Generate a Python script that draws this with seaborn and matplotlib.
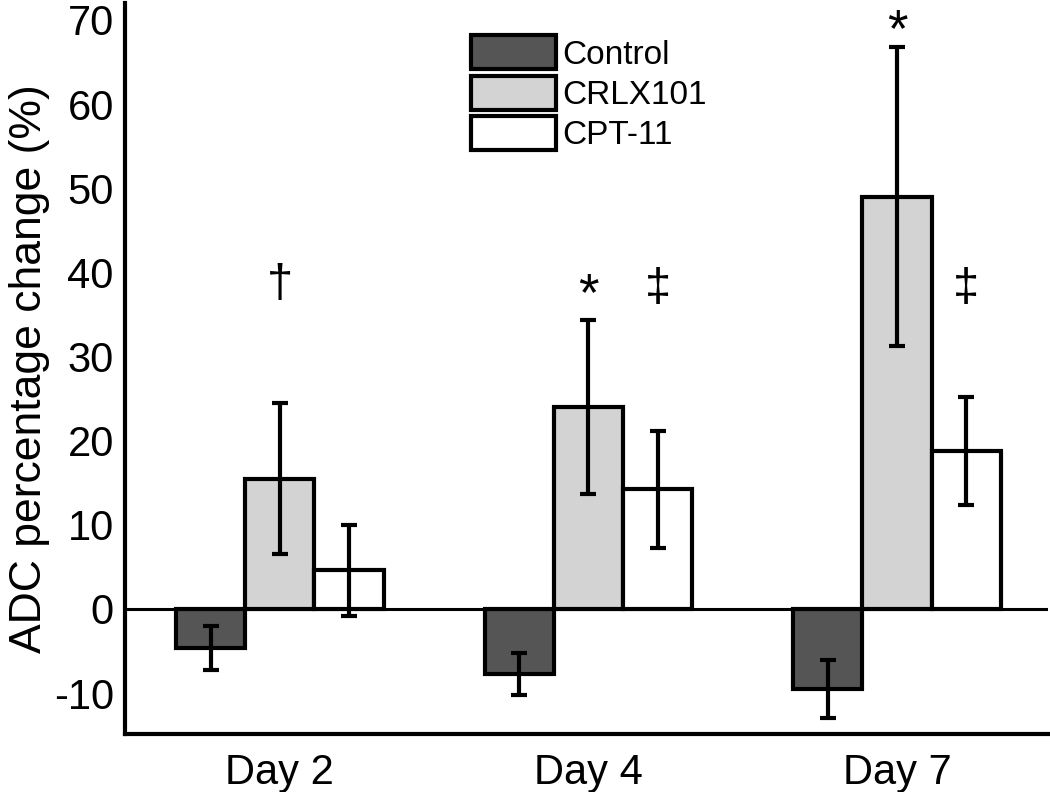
import pandas as pd
import matplotlib
matplotlib.use("Agg")
import matplotlib.pyplot as plt
import seaborn as sns

# Data
days = ["Day 2", "Day 4", "Day 7"]
groups = ["Control", "CRLX101", "CPT-11"]
control_mean = [-4.6, -7.7, -9.5]
control_err = [2.6, 2.5, 3.4]
crlx_mean = [15.5, 24.0, 49.0]
crlx_err = [9.0, 10.3, 17.8]
cpt_mean = [4.6, 14.2, 18.8]
cpt_err = [5.4, 7.0, 6.4]

# significance marks: (day index, group index, label, y)
marks = [(0, 1, "\u2020", 38.5), (1, 1, "*", 37.2), (1, 2, "\u2021", 38.0),
         (2, 1, "*", 68.6), (2, 2, "\u2021", 38.0)]

colors = ["#555555", "#d3d3d3", "#ffffff"]

rows = []
for g, means, errs in zip(groups, [control_mean, crlx_mean, cpt_mean],
                          [control_err, crlx_err, cpt_err]):
    for d, m, e in zip(days, means, errs):
        rows.append({"Day": d, "Group": g, "Change": m, "Err": e})
df = pd.DataFrame(rows)

sns.set_style("white")
plt.rcParams["font.family"] = ["Liberation Sans", "DejaVu Sans"]
plt.rcParams["axes.unicode_minus"] = False
plt.rcParams["text.color"] = "black"
plt.rcParams["axes.labelcolor"] = "black"
plt.rcParams["xtick.color"] = "black"
plt.rcParams["ytick.color"] = "black"

fig = plt.figure(figsize=(10.5, 7.92), dpi=100)
ax = fig.add_axes([0.119, 0.0732, 0.879, 0.923])

sns.barplot(data=df, x="Day", y="Change", hue="Group", order=days,
            hue_order=groups, palette=colors, width=0.672, errorbar=None,
            edgecolor="black", linewidth=3, saturation=1, ax=ax)

# error bars at the bar centres
bar_containers = list(ax.containers)
bar_pos = {}
for gi, cont in enumerate(bar_containers):
    for di, bar in enumerate(cont):
        x = bar.get_x() + bar.get_width() / 2
        bar_pos[(di, gi)] = x
        r = df[(df["Group"] == groups[gi]) & (df["Day"] == days[di])].iloc[0]
        ax.errorbar(x, r["Change"], yerr=r["Err"], color="black",
                    elinewidth=3, capsize=6, capthick=3, zorder=5)

for di, gi, lab, y in marks:
    ax.text(bar_pos[(di, gi)], y, lab, ha="center", va="center",
            fontsize=38 if lab == "*" else 34, color="black")

ax.axhline(0, color="black", linewidth=2.2, zorder=4)

ax.set_xlim(-0.502, 2.489)
ax.set_ylim(-14.86, 72)
ax.set_yticks(range(-10, 71, 10))
ax.tick_params(axis="y", length=0, labelsize=30, pad=8, labelcolor="black")
ax.tick_params(axis="x", length=0, labelsize=30, pad=14, labelcolor="black")
ax.set_xlabel("")
ax.set_ylabel("ADC percentage change (%)", fontsize=32, labelpad=3,
              color="black")

sns.despine(ax=ax)
for side in ["left", "bottom"]:
    ax.spines[side].set_linewidth(3)
    ax.spines[side].set_color("black")

leg = ax.legend(loc="upper left", bbox_to_anchor=(0.375, 0.956), frameon=False,
                fontsize=24, handlelength=2.55, handleheight=1.2,
                labelspacing=0.15, handletextpad=0.2, borderaxespad=0,
                borderpad=0)
for h in leg.legend_handles:
    h.set_linewidth(3)
    h.set_edgecolor("black")

fig.savefig("out.png", dpi=100)
